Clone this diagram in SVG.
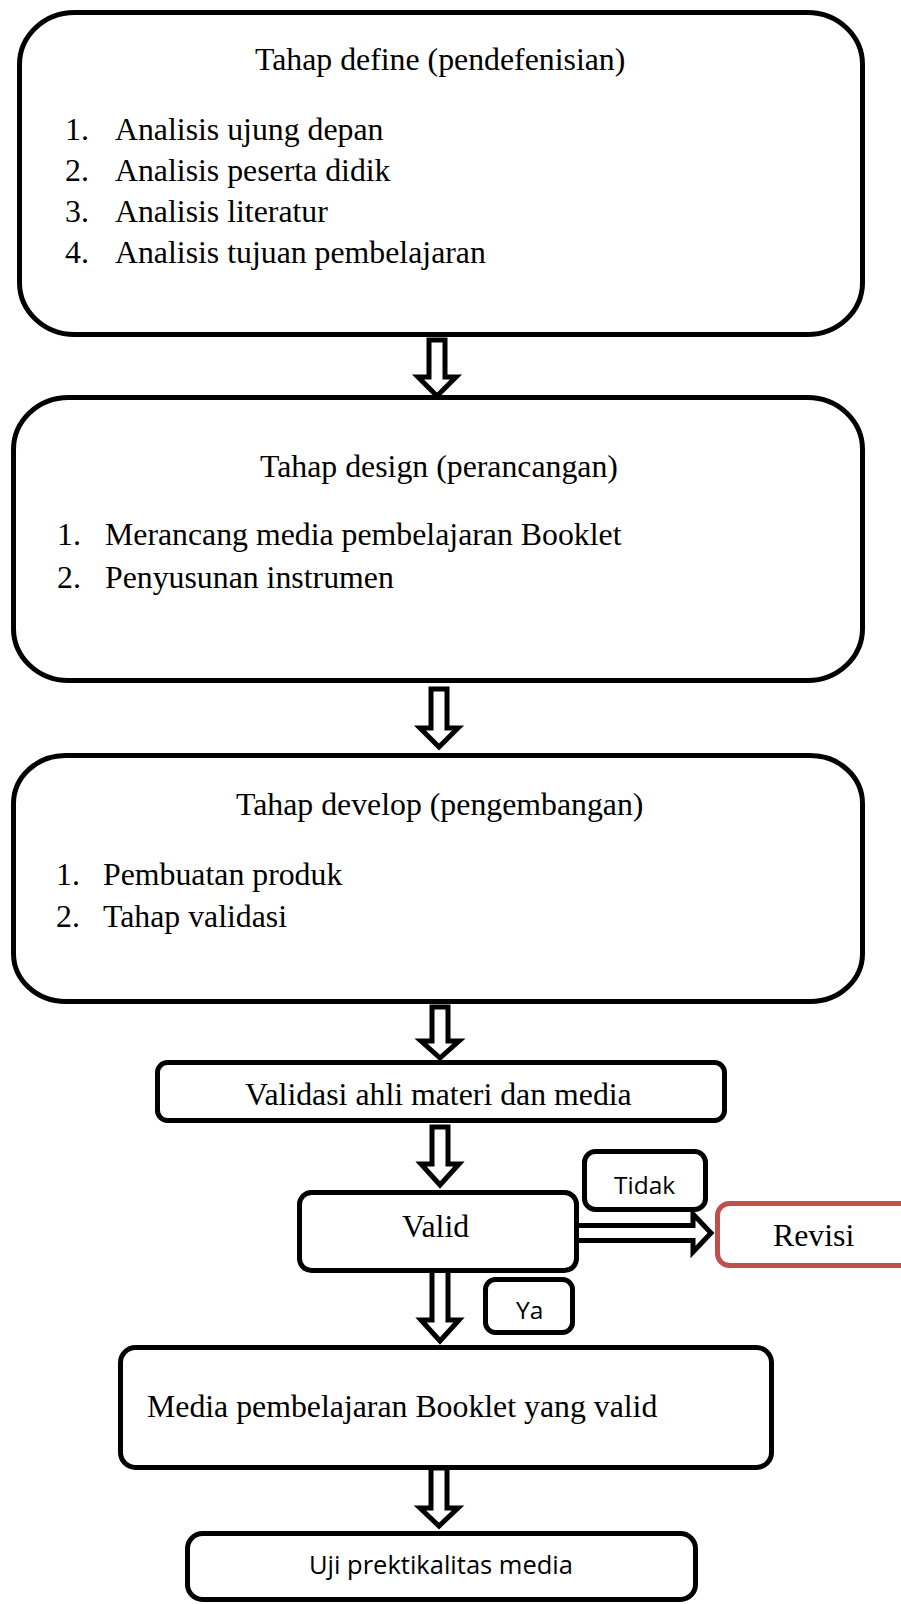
<svg xmlns="http://www.w3.org/2000/svg" width="901" height="1604" viewBox="0 0 901 1604">
<style>
.box{fill:#fff;stroke:#000;stroke-width:5}
.red{fill:#fff;stroke:#C0504D;stroke-width:5}
.arr{fill:#fff;stroke:#000;stroke-width:5;stroke-linejoin:miter;stroke-miterlimit:10}
.t{font-family:"Liberation Serif","Times New Roman",serif;font-size:31.8px;fill:#000}
.s{font-family:"Open Sans","Liberation Sans",sans-serif;font-size:24.5px;fill:#000}
</style>
<rect width="901" height="1604" fill="#fff"/>
<g id="connectors">
<path class="arr" d="M429,340 H445 V377 H456 L437,396 L418,377 H429 Z"/>
<path class="arr" d="M431,689 H447 V728 H458 L439,747 L420,728 H431 Z"/>
<path class="arr" d="M432,1007 H448 V1041 H459 L440,1058 L421,1041 H432 Z"/>
<path class="arr" d="M432,1127 H448 V1164 H459 L440,1185 L421,1164 H432 Z"/>
<path class="arr" d="M432,1270 H448 V1320 H459 L440,1341 L421,1320 H432 Z"/>
<path class="arr" d="M431,1468 H447 V1508 H458 L439,1526 L420,1508 H431 Z"/>
<path class="arr" d="M575,1225.5 H693 V1214 L711,1233 L693,1252 V1240.5 H575 Z"/>
</g>
<g id="define">
<rect class="box" x="19.5" y="12.5" width="843" height="322" rx="55" ry="52"/>
<text class="t" x="255" y="70">Tahap define (pendefenisian)</text>
<text class="t" x="65" y="140">1.</text><text class="t" x="115" y="140">Analisis ujung depan</text>
<text class="t" x="65" y="181">2.</text><text class="t" x="115" y="181">Analisis peserta didik</text>
<text class="t" x="65" y="222">3.</text><text class="t" x="115" y="222">Analisis literatur</text>
<text class="t" x="65" y="263">4.</text><text class="t" x="115" y="263">Analisis tujuan pembelajaran</text>
</g>
<g id="design">
<rect class="box" x="13.5" y="397.5" width="849" height="283" rx="55" ry="52"/>
<text class="t" x="260" y="477">Tahap design (perancangan)</text>
<text class="t" x="57" y="545">1.</text><text class="t" x="105" y="545">Merancang media pembelajaran Booklet</text>
<text class="t" x="57" y="588">2.</text><text class="t" x="105" y="588">Penyusunan instrumen</text>
</g>
<g id="develop">
<rect class="box" x="13.5" y="755.5" width="849" height="246" rx="52" ry="48"/>
<text class="t" x="236" y="815">Tahap develop (pengembangan)</text>
<text class="t" x="56" y="885">1.</text><text class="t" x="103" y="885">Pembuatan produk</text>
<text class="t" x="56" y="927">2.</text><text class="t" x="103" y="927">Tahap validasi</text>
</g>
<g id="validasi">
<rect class="box" x="157.5" y="1062.5" width="567" height="58" rx="10"/>
<text class="t" x="245" y="1105">Validasi ahli materi dan media</text>
</g>
<g id="valid">
<rect class="box" x="299.5" y="1192.5" width="277" height="78" rx="12"/>
<text class="t" x="402" y="1237">Valid</text>
</g>
<g id="tidak">
<rect class="box" x="584.5" y="1151.5" width="121" height="58" rx="11"/>
<text class="s" x="614" y="1194">Tidak</text>
</g>
<g id="revisi">
<rect class="red" x="717.5" y="1203.5" width="250" height="62" rx="12"/>
<text class="t" x="773" y="1246">Revisi</text>
</g>
<g id="ya">
<rect class="box" x="485.5" y="1279.5" width="87" height="53" rx="10"/>
<text class="s" x="516" y="1319">Ya</text>
</g>
<g id="media">
<rect class="box" x="120.5" y="1347.5" width="651" height="120" rx="15"/>
<text class="t" x="147" y="1417">Media pembelajaran Booklet yang valid</text>
</g>
<g id="uji">
<rect class="box" x="187.5" y="1533.5" width="508" height="66" rx="15"/>
<text class="s" x="309" y="1574" style="font-size:25.5px">Uji prektikalitas media</text>
</g>
</svg>
